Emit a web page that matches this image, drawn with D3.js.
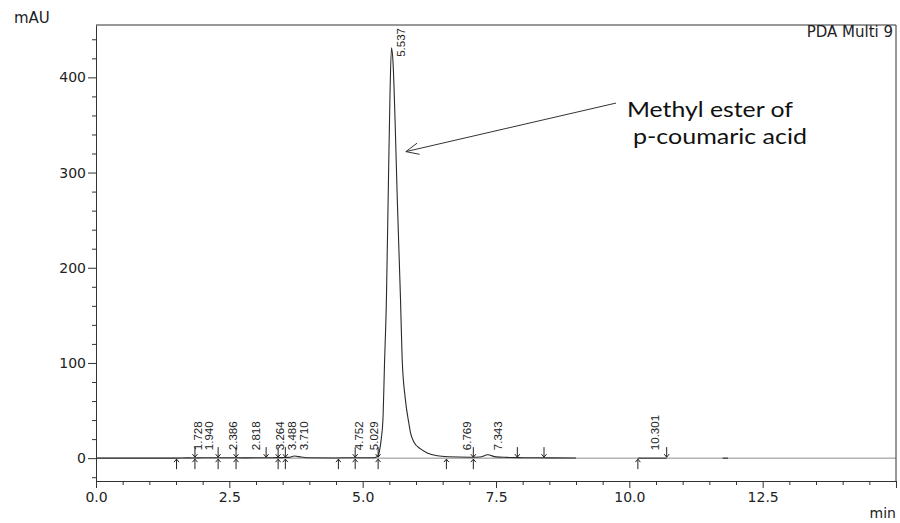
<!DOCTYPE html>
<html>
<head>
<meta charset="utf-8">
<script src="https://cdn.jsdelivr.net/npm/d3@7"></script>
<style>
  body { margin: 0; background: #fff; }
  svg { display: block; }
</style>
</head>
<body>
<div id="chart"></div>
<script>
// Chromatogram trace (time in min, signal in mAU)
let trace_time  = [0, 1.5, 1.7, 1.8, 2.0, 2.4, 2.8, 3.3, 3.5, 3.62, 3.72, 3.85, 4.0, 4.5, 4.75, 5.0, 5.2,
                   5.27, 5.30, 5.32, 5.346, 5.383, 5.408, 5.445, 5.48, 5.51, 5.54, 5.57, 5.61, 5.65, 5.71,
                   5.74, 5.80, 5.865, 5.90, 5.96, 6.08, 6.21, 6.40, 6.6, 7.0, 7.2, 7.343, 7.5, 7.7, 8.0, 8.5, 9.0];
let trace_value = [0, 0, 0.3, 0.2, 0.4, 0.5, 0.3, 0.5, 0.6, 0.8, 2.2, 1.2, 0.4, 0.2, 0.5, 0.4, 0.5,
                   1.5, 4, 9, 19, 44, 96, 166, 280, 375, 431, 415, 350, 270, 166,
                   105, 62, 37, 26, 17, 10, 5.5, 2.5, 1.5, 1, 1.2, 3.5, 1.3, 0.8, 0.5, 0.3, 0.2];

// integrated peaks: retention time and apex height
let peak_time   = [1.728, 1.940, 2.386, 2.818, 3.264, 3.488, 3.710, 4.752, 5.029, 5.537, 6.769, 7.343, 10.301];
let peak_height = [1, 1, 1, 0.5, 1, 1, 2, 1, 1, 431, 1, 3.5, 0.5];

// peak start / end marks
let mark_time = [1.51, 1.855, 2.29, 2.626, 3.19, 3.415, 3.55, 4.545, 4.86, 5.29, 6.57, 7.075, 7.90, 8.40, 10.16, 10.70];
let mark_kind = ["up", "both", "both", "both", "down", "both", "both", "up", "both", "both", "up", "both", "down", "down", "up", "down"];

// extra baseline pieces drawn by the integrator
let base_start = [10.16, 11.75];
let base_end   = [10.70, 11.85];

let x_ticks = d3.range(0, 15.01, 0.5);
let y_ticks = d3.range(-20, 441, 20);

let width = 900;
let height = 523;
let margin = {top: 25, right: 4, bottom: 42, left: 96};

let svg = d3.select("#chart")
            .append("svg")
            .attr("width", width)
            .attr("height", height);

let x = d3.scaleLinear()
          .domain([0, 15])
          .range([margin.left, width - margin.right]);

let y = d3.scaleLinear()
          .domain([-24, 455])
          .range([height - margin.bottom, margin.top]);

let axis_color = "#333";
let font = "'DejaVu Sans', sans-serif";

// zero line
svg.append("line")
   .attr("x1", x(0)).attr("x2", x(15))
   .attr("y1", y(0)).attr("y2", y(0))
   .style("stroke", "#8c8c8c")
   .style("stroke-width", 1);

// baseline pieces
svg.append("g")
   .selectAll("line")
   .data(d3.range(base_start.length))
   .join("line")
   .attr("x1", i => x(base_start[i]))
   .attr("x2", i => x(base_end[i]))
   .attr("y1", y(0)).attr("y2", y(0))
   .style("stroke", "#222")
   .style("stroke-width", 1);

// signal
let line = d3.line()
             .x(i => x(trace_time[i]))
             .y(i => y(trace_value[i]))
             .curve(d3.curveMonotoneX);

svg.append("path")
   .attr("d", line(d3.range(trace_time.length)))
   .style("fill", "none")
   .style("stroke", "#2a2a2a")
   .style("stroke-width", 1.1);

// x axis
let x_axis = svg.append("g")
   .attr("transform", "translate(0," + y.range()[0] + ")")
   .call(d3.axisBottom(x)
           .tickValues(x_ticks)
           .tickSizeOuter(0)
           .tickFormat(d => (d % 2.5 === 0 && d < 15) ? d.toFixed(1) : ""));

x_axis.select(".domain").style("stroke", axis_color);
x_axis.selectAll(".tick line")
      .style("stroke", axis_color)
      .attr("y2", d => d % 2.5 === 0 ? 7 : 4);
x_axis.selectAll(".tick text")
      .attr("y", 11)
      .attr("dy", "0.71em")
      .style("font-family", font)
      .style("font-size", "14px")
      .style("fill", "#222");

// y axis
let y_axis = svg.append("g")
   .attr("transform", "translate(" + margin.left + ",0)")
   .call(d3.axisLeft(y)
           .tickValues(y_ticks)
           .tickSizeOuter(0)
           .tickFormat(d => d % 100 === 0 ? d : ""));

y_axis.select(".domain").style("stroke", axis_color);
y_axis.selectAll(".tick line")
      .style("stroke", axis_color)
      .attr("x2", d => d % 100 === 0 ? -8 : -4);
y_axis.selectAll(".tick text")
      .attr("x", -10)
      .style("font-family", font)
      .style("font-size", "14px")
      .style("fill", "#222");

// frame top and right
svg.append("path")
   .attr("d", "M" + x(0) + "," + y(455) + "H" + x(15) + "V" + y(-24))
   .style("fill", "none")
   .style("stroke", axis_color)
   .style("stroke-width", 1);

// peak start / end arrows
let marks = svg.append("g")
               .style("stroke", "#222")
               .style("fill", "none")
               .style("stroke-width", 1);

mark_time.forEach(function(t, i) {
  let px = x(t), py = y(0);
  if (mark_kind[i] === "up" || mark_kind[i] === "both") {
    marks.append("path")
         .attr("d", "M" + px + "," + (py + 11) + "V" + (py + 1) +
                    "M" + (px - 2.5) + "," + (py + 4) + "L" + px + "," + (py + 1) + "L" + (px + 2.5) + "," + (py + 4));
  }
  if (mark_kind[i] === "down" || mark_kind[i] === "both") {
    marks.append("path")
         .attr("d", "M" + px + "," + (py - 11) + "V" + (py - 1) +
                    "M" + (px - 2.5) + "," + (py - 4) + "L" + px + "," + (py - 1) + "L" + (px + 2.5) + "," + (py - 4));
  }
});

// retention time labels
svg.append("g")
   .selectAll("text")
   .data(d3.range(peak_time.length))
   .join("text")
   .attr("transform", function(i) {
     let ty = Math.min(y(peak_height[i]) + 9, y(0) - 8);
     return "translate(" + (x(peak_time[i]) + 14) + "," + ty + ") rotate(-90)";
   })
   .style("font-family", "'Liberation Sans', Arial, sans-serif")
   .style("font-size", "11.5px")
   .style("fill", "#222")
   .text(i => peak_time[i].toFixed(3));

// axis titles
svg.append("text")
   .attr("x", 14)
   .attr("y", 23)
   .style("font-family", font)
   .style("font-size", "15px")
   .style("fill", "#222")
   .text("mAU");

svg.append("text")
   .attr("x", 896)
   .attr("y", 518)
   .attr("text-anchor", "end")
   .style("font-family", font)
   .style("font-size", "14px")
   .style("fill", "#222")
   .text("min");

svg.append("text")
   .attr("x", 893)
   .attr("y", 37)
   .attr("text-anchor", "end")
   .style("font-family", font)
   .style("font-size", "15px")
   .style("fill", "#222")
   .text("PDA Multi 9");

// annotation
let note = svg.append("g");

note.append("line")
    .attr("x1", x(9.75)).attr("y1", y(373))
    .attr("x2", x(5.81)).attr("y2", y(322))
    .style("stroke", "#333")
    .style("stroke-width", 1);

let ax = x(5.81), ay = y(322);
let ang = Math.atan2(y(373) - ay, x(9.75) - ax);
let hl = 14, hw = 0.42;
note.append("path")
    .attr("d", "M" + (ax + hl * Math.cos(ang - hw)) + "," + (ay + hl * Math.sin(ang - hw)) +
               "L" + ax + "," + ay +
               "L" + (ax + hl * Math.cos(ang + hw)) + "," + (ay + hl * Math.sin(ang + hw)))
    .style("fill", "none")
    .style("stroke", "#333")
    .style("stroke-width", 1);

note.append("text")
    .attr("x", 627)
    .attr("y", 117)
    .attr("textLength", 166)
    .attr("lengthAdjust", "spacingAndGlyphs")
    .style("font-family", "Lato, 'Open Sans', sans-serif")
    .style("font-size", "22px")
    .style("fill", "#111")
    .text("Methyl ester of");

note.append("text")
    .attr("x", 633)
    .attr("y", 144)
    .attr("textLength", 174)
    .attr("lengthAdjust", "spacingAndGlyphs")
    .style("font-family", "Lato, 'Open Sans', sans-serif")
    .style("font-size", "22px")
    .style("fill", "#111")
    .text("p-coumaric acid");
</script>
</body>
</html>
